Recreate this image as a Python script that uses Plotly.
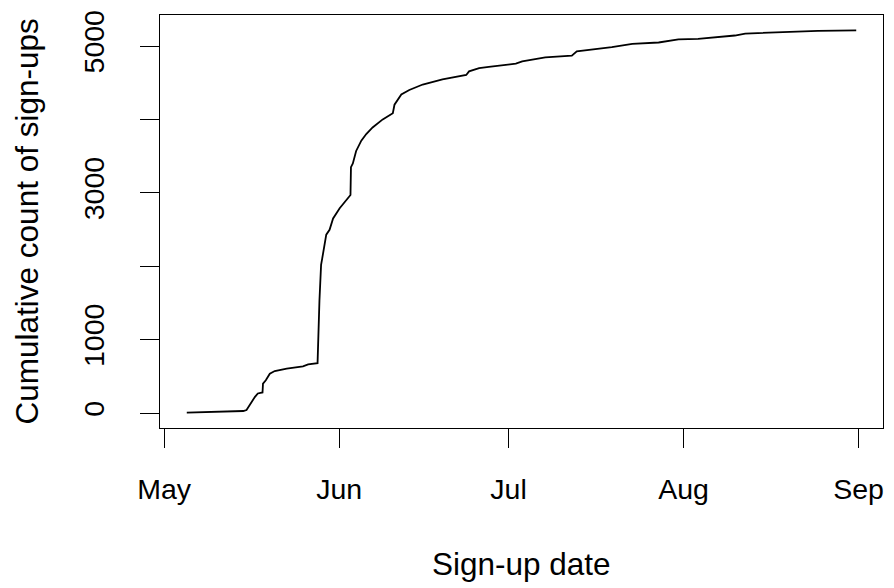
import plotly.graph_objects as go
import pandas as pd

# Cumulative sign-ups over time
signup_time = [
    "2021-05-05 00:00", "2021-05-12 16:00", "2021-05-15 00:00", "2021-05-15 14:00",
    "2021-05-16 12:00", "2021-05-17 02:00", "2021-05-17 14:00", "2021-05-18 10:00",
    "2021-05-18 12:00", "2021-05-19 00:00", "2021-05-19 17:00", "2021-05-20 14:00",
    "2021-05-22 17:00", "2021-05-25 14:00", "2021-05-26 12:00", "2021-05-28 02:00",
    "2021-05-28 04:00", "2021-05-28 12:00", "2021-05-28 19:00", "2021-05-29 00:00",
    "2021-05-29 17:00", "2021-05-30 07:00", "2021-05-30 22:00", "2021-06-01 02:00",
    "2021-06-02 12:00", "2021-06-03 00:00", "2021-06-03 02:00", "2021-06-03 10:00",
    "2021-06-04 00:00", "2021-06-04 22:00", "2021-06-05 19:00", "2021-06-06 22:00",
    "2021-06-08 17:00", "2021-06-10 12:00", "2021-06-10 19:00", "2021-06-12 00:00",
    "2021-06-13 10:00", "2021-06-15 19:00", "2021-06-19 07:00", "2021-06-21 17:00",
    "2021-06-23 12:00", "2021-06-24 00:00", "2021-06-25 19:00", "2021-06-27 12:00",
    "2021-07-02 07:00", "2021-07-03 10:00", "2021-07-07 12:00", "2021-07-12 05:00",
    "2021-07-13 02:00", "2021-07-19 07:00", "2021-07-22 22:00", "2021-07-27 14:00",
    "2021-07-31 02:00", "2021-08-03 14:00", "2021-08-10 02:00", "2021-08-11 22:00",
    "2021-08-17 17:00", "2021-08-24 19:00", "2021-08-31 14:00",
]
cumulative_count = [
    4, 14, 27, 40,
    153, 220, 266, 280,
    400, 446, 536, 572,
    604, 635, 662, 671,
    680, 1530, 2020, 2110,
    2430, 2495, 2650, 2790,
    2920, 2970, 3350, 3400,
    3570, 3710, 3800, 3890,
    4000, 4085, 4200, 4340,
    4400, 4475, 4545, 4575,
    4605, 4655, 4700, 4715,
    4760, 4790, 4845, 4868,
    4927, 4985, 5030, 5048,
    5090, 5098, 5143, 5170,
    5188, 5205, 5214,
]

month_ticks = ["2021-05-01", "2021-06-01", "2021-07-01", "2021-08-01", "2021-09-01"]
month_labels = ["May", "Jun", "Jul", "Aug", "Sep"]
count_ticks = [0, 1000, 2000, 3000, 4000, 5000]
count_labels = ["0", "1000", "", "3000", "", "5000"]

t = pd.to_datetime(signup_time)

# axis ranges padded by 4% on each side
t_min, t_max = t.min(), t.max()
t_pad = (t_max - t_min) * 0.04
x_range = [t_min - t_pad, t_max + t_pad]
y_min, y_max = min(cumulative_count), max(cumulative_count)
y_pad = (y_max - y_min) * 0.04
y_range = [y_min - y_pad, y_max + y_pad]

FONT = "Liberation Sans, Arial, sans-serif"
TICK_SIZE = 28.5
TITLE_SIZE = 31.5

fig = go.Figure()
fig.add_trace(go.Scatter(
    x=t, y=cumulative_count, mode="lines",
    line=dict(color="black", width=1.8),
    hoverinfo="x+y", showlegend=False,
))

axis_common = dict(
    showgrid=False, zeroline=False,
    showline=True, mirror=True, linecolor="black", linewidth=1.3,
    ticks="outside", ticklen=19, tickwidth=1.3, tickcolor="black",
    tickfont=dict(family=FONT, size=TICK_SIZE, color="black"),
)

fig.update_layout(
    width=894, height=588,
    margin=dict(l=160, r=10, t=12, b=160),
    paper_bgcolor="white", plot_bgcolor="white",
    font=dict(family=FONT, color="black"),
    xaxis=dict(
        type="date", range=x_range,
        tickmode="array", tickvals=month_ticks, ticktext=month_labels,
        ticklabelstandoff=17,
        **axis_common,
    ),
    yaxis=dict(
        range=y_range,
        tickmode="array", tickvals=count_ticks, ticktext=count_labels,
        tickangle=-90, ticklabelstandoff=24,
        **axis_common,
    ),
    annotations=[
        dict(text="Sign-up date", xref="paper", yref="paper",
             x=0.5, y=-0.329, xanchor="center", yanchor="middle",
             showarrow=False, font=dict(family=FONT, size=TITLE_SIZE, color="black")),
        dict(text="Cumulative count of sign-ups", xref="paper", yref="paper",
             x=-0.184, y=0.5, xanchor="center", yanchor="middle", textangle=-90,
             showarrow=False, font=dict(family=FONT, size=TITLE_SIZE, color="black")),
    ],
)

fig.write_html("out.html")
